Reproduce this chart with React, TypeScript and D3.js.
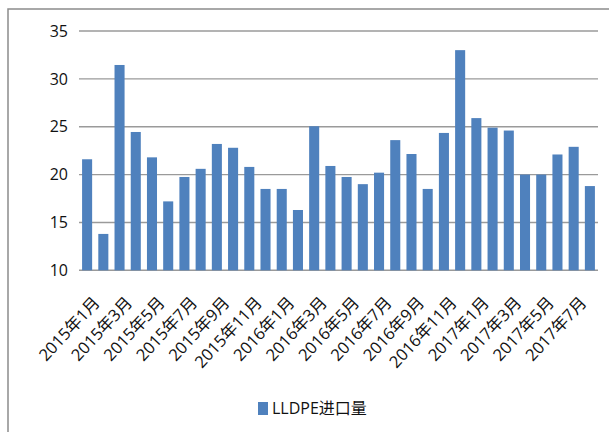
import React from "react";
import * as d3 from "d3";

const months: string[] = [
  "2015年1月","2015年2月","2015年3月","2015年4月","2015年5月","2015年6月","2015年7月","2015年8月",
  "2015年9月","2015年10月","2015年11月","2015年12月","2016年1月","2016年2月","2016年3月","2016年4月",
  "2016年5月","2016年6月","2016年7月","2016年8月","2016年9月","2016年10月","2016年11月","2016年12月",
  "2017年1月","2017年2月","2017年3月","2017年4月","2017年5月","2017年6月","2017年7月","2017年8月",
];
const importValues: number[] = [
  21.6, 13.8, 31.45, 24.45, 21.8, 17.2, 19.75, 20.6,
  23.2, 22.8, 20.8, 18.5, 18.5, 16.3, 25.05, 20.9,
  19.75, 19.0, 20.2, 23.6, 22.15, 18.5, 24.35, 33.0,
  25.9, 24.9, 24.6, 20.0, 20.0, 22.1, 22.9, 18.8,
];
const yTicks: number[] = [10, 15, 20, 25, 30, 35];
const seriesName = "LLDPE进口量";

const W = 609, H = 432;
const left = 79, right = 598, top = 31, bottom = 270.3;
const font = "'Open Sans', 'Noto Sans CJK SC', sans-serif";

export default function App() {
  const x = d3.scaleBand<string>().domain(months).range([left, right]).paddingInner(0.38).paddingOuter(0.19);
  const y = d3.scaleLinear().domain([10, 35]).range([bottom, top]);
  return (
    <svg width={W} height={H} style={{ position: "absolute", left: 0, top: 0 }}>
      <rect x={0} y={0} width={W} height={H} fill="#fff" />
      <rect x={8} y={9} width={640} height={460} fill="none" stroke="#8c8c8c" strokeWidth={1.5} />
      {yTicks.map((t) => (
        <g key={t}>
          <line x1={left} x2={right} y1={y(t)} y2={y(t)} stroke="#9a9a9a" strokeWidth={1.4} />
          <text x={68} y={y(t)} dy="0.36em" textAnchor="end" fontFamily={font} fontSize={16} fill="#111">{t}</text>
        </g>
      ))}
      {months.map((m, i) => (
        <rect key={m} x={x(m)!} y={y(importValues[i])} width={x.bandwidth()} height={bottom - y(importValues[i])} fill="#4F81BD" />
      ))}
      {months.map((m, i) =>
        i % 2 === 0 ? (
          <text key={"l" + m} transform={`translate(${x(m)! + x.bandwidth() / 2 + 9},${299}) rotate(-47)`}
            textAnchor="end" dominantBaseline="central" fontFamily={font} fontSize={16.5} fill="#111">{m}</text>
        ) : null
      )}
      <rect x={258} y={402} width={10} height={13} fill="#4F81BD" />
      <text x={272} y={414} fontFamily={font} fontSize={16} fill="#111">{seriesName}</text>
    </svg>
  );
}
